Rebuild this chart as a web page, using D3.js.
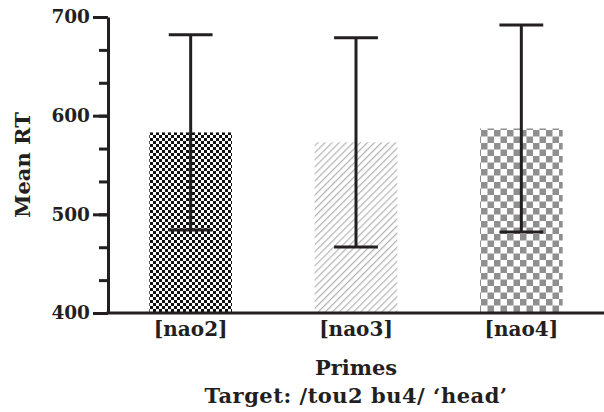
<!DOCTYPE html>
<html>
<head>
<meta charset="utf-8">
<script src="https://cdn.jsdelivr.net/npm/d3@7"></script>
<style>
  body { margin: 0; background: #fff; }
  text { font-family: "DejaVu Serif", serif; font-weight: bold; fill: #231f20; }
</style>
</head>
<body>
<div id="chart"></div>
<script>
// data
const primes = ["[nao2]", "[nao3]", "[nao4]"];
const meanRT = [583, 573, 587];
const errRT = [99, 106, 105];
const yTicks = [400, 500, 600, 700];

const width = 604, height = 412;
const margin = {top: 17, right: 0, bottom: 99, left: 108};
const ink = "#231f20";

const svg = d3.select("#chart").append("svg")
    .attr("width", width)
    .attr("height", height);

// fill patterns for the three bars
const defs = svg.append("defs");

const p1 = defs.append("pattern").attr("id", "chk-fine")
    .attr("patternUnits", "userSpaceOnUse").attr("width", 6).attr("height", 6);
p1.append("rect").attr("width", 6).attr("height", 6).attr("fill", "#fff");
p1.append("rect").attr("width", 3).attr("height", 3).attr("fill", "#111");
p1.append("rect").attr("x", 3).attr("y", 3).attr("width", 3).attr("height", 3).attr("fill", "#111");

const p2 = defs.append("pattern").attr("id", "hatch")
    .attr("patternUnits", "userSpaceOnUse").attr("width", 5).attr("height", 5)
    .attr("patternTransform", "rotate(45)");
p2.append("rect").attr("width", 5).attr("height", 5).attr("fill", "#fff");
p2.append("line").attr("x1", 0).attr("y1", 0).attr("x2", 0).attr("y2", 5)
    .attr("stroke", "#b3b3b3").attr("stroke-width", 2.4);

const p3 = defs.append("pattern").attr("id", "chk-coarse")
    .attr("patternUnits", "userSpaceOnUse").attr("width", 13).attr("height", 13);
p3.append("rect").attr("width", 13).attr("height", 13).attr("fill", "#fff");
p3.append("rect").attr("width", 6.5).attr("height", 6.5).attr("fill", "#8f8f8f");
p3.append("rect").attr("x", 6.5).attr("y", 6.5).attr("width", 6.5).attr("height", 6.5).attr("fill", "#8f8f8f");

const fills = ["url(#chk-fine)", "url(#hatch)", "url(#chk-coarse)"];

// scales
const x = d3.scaleBand()
    .domain(primes)
    .range([margin.left, width - margin.right])
    .paddingInner(0.5)
    .paddingOuter(0.25);

const y = d3.scaleLinear()
    .domain([400, 700])
    .range([height - margin.bottom, margin.top]);

// bars
svg.selectAll(".bar")
    .data(primes)
    .enter().append("rect")
    .attr("x", d => x(d))
    .attr("y", (d, i) => y(meanRT[i]))
    .attr("width", x.bandwidth())
    .attr("height", (d, i) => y(400) - y(meanRT[i]))
    .attr("fill", (d, i) => fills[i]);

// error bars
const capW = x.bandwidth() * 0.53;
primes.forEach((d, i) => {
    const cx = x(d) + x.bandwidth() / 2;
    const g = svg.append("g").attr("stroke", ink).attr("stroke-width", 3);
    g.append("line").attr("x1", cx).attr("x2", cx)
        .attr("y1", y(meanRT[i] + errRT[i])).attr("y2", y(meanRT[i] - errRT[i]));
    g.append("line").attr("x1", cx - capW / 2).attr("x2", cx + capW / 2)
        .attr("y1", y(meanRT[i] + errRT[i])).attr("y2", y(meanRT[i] + errRT[i]));
    g.append("line").attr("x1", cx - capW / 2).attr("x2", cx + capW / 2)
        .attr("y1", y(meanRT[i] - errRT[i])).attr("y2", y(meanRT[i] - errRT[i]));
});

// y axis: minor ticks then major ticks with labels
const yMinor = svg.append("g")
    .attr("transform", `translate(${margin.left},0)`)
    .call(d3.axisLeft(y).tickValues(d3.range(400, 701, 100 / 3)).tickSize(9).tickFormat(""));
yMinor.select(".domain").remove();
yMinor.selectAll("line").attr("stroke", ink).attr("stroke-width", 3);

const yAxis = svg.append("g")
    .attr("transform", `translate(${margin.left},0)`)
    .call(d3.axisLeft(y).tickValues(yTicks).tickSize(15).tickSizeOuter(0).tickPadding(3));
yAxis.select(".domain").attr("stroke", ink).attr("stroke-width", 3);
yAxis.selectAll("line").attr("stroke", ink).attr("stroke-width", 3);
yAxis.selectAll("text").style("font-size", "18.5px").attr("fill", ink);

// x axis
const xAxis = svg.append("g")
    .attr("transform", `translate(0,${y(400)})`)
    .call(d3.axisBottom(x).tickSize(0).tickPadding(9));
xAxis.select(".domain").attr("d", `M${margin.left - 1.5},0H${width}`)
    .attr("stroke", ink).attr("stroke-width", 3);
xAxis.selectAll("text").style("font-size", "20px").attr("fill", ink);

// axis titles
svg.append("text")
    .attr("transform", `translate(30,${(y(400) + y(700)) / 2}) rotate(-90)`)
    .attr("text-anchor", "middle")
    .style("font-size", "21px")
    .text("Mean RT");

const xMid = (margin.left + width) / 2;
svg.append("text")
    .attr("x", xMid).attr("y", 375)
    .attr("text-anchor", "middle")
    .style("font-size", "21px")
    .text("Primes");

svg.append("text")
    .attr("x", xMid).attr("y", 403)
    .attr("text-anchor", "middle")
    .style("font-size", "21px")
    .style("letter-spacing", "0.5px")
    .text("Target: /tou2 bu4/ \u2018head\u2019");
</script>
</body>
</html>
